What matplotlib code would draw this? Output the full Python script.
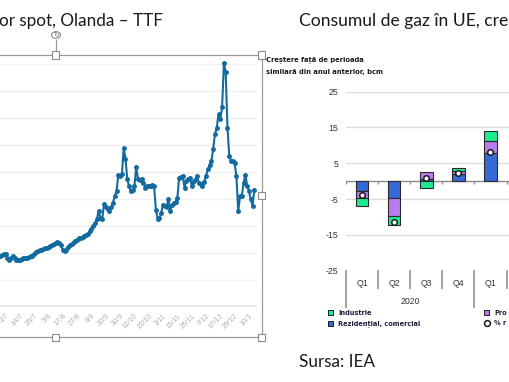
import matplotlib
matplotlib.use('Agg')
import matplotlib.pyplot as plt
from matplotlib.patches import Rectangle, Circle
from matplotlib.lines import Line2D
from matplotlib.transforms import blended_transform_factory
import numpy as np

# ---------------- data ----------------
# Left chart: TTF spot price (EUR/MWh), one value per trading day
ttf_first_index = -12
ttf_prices = [
    37.0, 37.5, 38.5, 39.5, 39.0, 36.5, 35.0, 36.0, 37.5, 36.0, 35.0, 34.5,
    35.0, 35.5, 36.0, 36.5, 36.5, 37.0, 37.5, 38.0, 39.5, 41.0, 41.5, 42.0,
    42.5, 43.0, 43.5, 44.0, 44.5, 45.0, 46.0, 46.5, 47.5, 48.5, 47.5, 46.0,
    42.0, 41.5, 42.5, 44.5, 46.0, 47.0, 48.0, 49.0, 50.0, 51.0, 51.5, 52.0,
    52.5, 53.5, 54.5, 56.0, 57.5, 60.0, 62.0, 65.0, 71.5, 66.0, 65.0, 76.5,
    74.5, 72.5, 71.0, 74.0, 77.5, 82.0, 86.0, 98.0, 97.0, 98.5, 118.0, 110.0,
    95.0, 89.5, 86.0, 87.0, 89.5, 104.0, 95.0, 94.5, 95.0, 92.0, 88.5, 90.0,
    89.5, 90.0, 90.5, 89.5, 72.0, 65.0, 66.0, 70.0, 76.0, 75.0, 74.5, 80.0,
    71.0, 76.0, 77.0, 78.0, 81.0, 96.0, 96.5, 97.0, 88.5, 93.5, 95.0, 96.0,
    90.0, 93.0, 94.0, 97.0, 92.0, 91.0, 90.0, 93.0, 97.0, 102.0, 105.0, 108.0,
    117.0, 128.0, 133.0, 143.0, 139.5, 148.0, 181.0, 174.0, 133.0, 112.0, 108.5, 108.0,
    106.5, 97.0, 71.0, 82.0, 82.5, 92.0, 98.0, 90.0, 86.0, 80.0, 75.0, 87.0,
]
date_tick_labels = ['2/7', '14/7', '26/7', '5/8', '17/8', '27/8', '8/9', '20/9', '30/9',
                    '12/10', '22/10', '3/11', '15/11', '25/11', '7/12', '17/12', '29/12', '10/1']
date_tick_positions = list(range(-8, 129, 8))
price_gridlines = [20, 40, 60, 80, 100, 120, 140, 160, 180]

# Right chart: EU gas consumption, y/y change (bcm)
quarters = ['Q1', 'Q2', 'Q3', 'Q4', 'Q1']
year_label = '2020'
residential = [-2.6, -4.7, 0.6, 2.0, 7.9]
power = [-2.0, -5.0, 1.9, 0.8, 3.2]
industry = [-2.4, -2.4, -2.0, 1.0, 3.0]
total_change = [-3.8, -11.4, 0.8, 2.4, 8.2]
y_ticks_right = [25, 15, 5, -5, -15, -25]

# ---------------- figure ----------------
W, H = 510, 382
def fx(px): return px / W
def fy(py): return 1 - py / H

fig = plt.figure(figsize=(W / 100, H / 100), dpi=100)
fig.patch.set_facecolor('white')

title_font = 'Lato'
fig.text(fx(-1), fy(26), 'or spot, Olanda \u2013 TTF', fontsize=12.3, family=title_font,
         color='#1a1a1a', va='baseline', ha='left')
fig.text(fx(299), fy(26), 'Consumul de gaz \u00een UE, cre', fontsize=12.6, family=title_font,
         color='#1a1a1a', va='baseline', ha='left')
fig.text(fx(299), fy(367), 'Sursa: IEA', fontsize=12.3, family=title_font,
         color='#1a1a1a', va='baseline', ha='left')

# ---------- left chart ----------
ax1 = fig.add_axes([fx(-20), fy(307), 277 / W, (307 - 64.3) / H])
x_idx = np.arange(ttf_first_index, ttf_first_index + len(ttf_prices))
ax1.set_xlim(-22.3, 132.5)
ax1.set_ylim(0, 180)
for g in price_gridlines:
    ax1.axhline(g, color='#efefef', lw=1.0, zorder=0)
ax1.axhline(0, color='#e6e6e6', lw=3.5, zorder=0)
ax1.plot(x_idx, ttf_prices, color='#136a9f', lw=1.5, marker='o', ms=2.5,
         mec='#136a9f', mfc='#136a9f', clip_on=False, zorder=3)
for s in ax1.spines.values():
    s.set_visible(False)
ax1.set_yticks([])
ax1.set_xticks(date_tick_positions)
ax1.set_xticklabels(date_tick_labels, rotation=45, ha='right', va='top',
                    rotation_mode='anchor', fontsize=5.3, color='#b0b0b0',
                    family='Liberation Sans')
ax1.tick_params(axis='x', length=0, pad=4)
ax1.patch.set_alpha(0)

# selection frame around left chart
frame_col = '#9a9a9a'
fig.add_artist(Line2D([fx(0), fx(262)], [fy(55), fy(55)], color=frame_col, lw=0.9))
fig.add_artist(Line2D([fx(262), fx(262)], [fy(55), fy(337)], color=frame_col, lw=0.9))
fig.add_artist(Line2D([fx(0), fx(262)], [fy(337), fy(337)], color=frame_col, lw=0.9))
fig.add_artist(Line2D([fx(56), fx(56)], [fy(40), fy(55)], color=frame_col, lw=0.9))
for (hx, hy) in [(56, 55), (262, 55), (262, 196), (56, 337), (262, 337)]:
    fig.add_artist(Rectangle((fx(hx - 3.5), fy(hy + 3.5)), 7 / W, 7 / H,
                             facecolor='white', edgecolor='#8a8a8a', lw=0.8, zorder=10))
fig.add_artist(Circle((fx(56), fy(35)), 4.5 / W, facecolor='white', edgecolor='#8a8a8a',
                      lw=0.8, zorder=10, transform=fig.transFigure))
fig.text(fx(56), fy(35), '\u21bb', fontsize=5, color='#777777', ha='center', va='center',
         zorder=11, family='DejaVu Sans')

# ---------- right chart ----------
fig.text(fx(266), fy(60), 'Cre\u0219tere fa\u021b\u0103 de perioada', fontsize=4.9,
         weight='bold', color='#1a1a1a', va='center', ha='left', family='DejaVu Sans')
fig.text(fx(266), fy(72), 'similar\u0103 din anul anterior, bcm', fontsize=4.9,
         weight='bold', color='#1a1a1a', va='center', ha='left', family='DejaVu Sans')

cat_w = 32.1
ax2 = fig.add_axes([fx(346), fy(270.7), cat_w * 7 / W, 179 / H])
ax2.set_xlim(-0.5, 6.5)
ax2.set_ylim(-25, 25)
for s in ax2.spines.values():
    s.set_visible(False)
ax2.patch.set_alpha(0)
ax2.set_xticks([])
ax2.set_yticks(y_ticks_right)
ax2.set_yticklabels([str(v) for v in y_ticks_right], fontsize=6.3, color='#333333',
                    family='Liberation Sans')
ax2.tick_params(axis='y', length=0, pad=5.5)
for g in y_ticks_right[:-1]:
    ax2.axhline(g, color='#dcdcdc', lw=1.0, zorder=0)

c_green = '#1cec8e'
c_purple = '#b97cee'
c_blue = '#3569d6'
xpos = np.arange(len(quarters))
bar_w = 0.39
pos_base = np.zeros(len(quarters))
neg_base = np.zeros(len(quarters))
for series, col in [(residential, c_blue), (power, c_purple), (industry, c_green)]:
    vals = np.array(series)
    bottoms = np.where(vals >= 0, pos_base, neg_base)
    ax2.bar(xpos, vals, bar_w, bottom=bottoms, color=col, edgecolor='#2a2a2a',
            lw=0.8, zorder=3)
    pos_base = pos_base + np.where(vals >= 0, vals, 0)
    neg_base = neg_base + np.where(vals < 0, vals, 0)
ax2.scatter(xpos, total_change, s=16, facecolor='white', edgecolor='#1a1a1a',
            lw=1.1, zorder=5)

ax2.axhline(0, color='#8c8c8c', lw=1.0, zorder=2)
bounds = np.arange(-0.5, 6.5, 1.0)
ax2.vlines(bounds, -0.7, 0, color='#8c8c8c', lw=1.0, zorder=2)

tr = blended_transform_factory(ax2.transData, fig.transFigure)
for i, b in enumerate(bounds):
    long = (i % 4 == 0)
    ax2.add_line(Line2D([b, b], [fy(270.7), fy(307 if long else 288)], color='#9a9a9a',
                        lw=1.3, transform=tr, clip_on=False))
for i, q in enumerate(quarters):
    ax2.text(i, fy(283.5), q, transform=tr, ha='center', va='center', fontsize=6.3,
             color='#333333', family='Liberation Sans')
ax2.text(1.5, fy(301.5), year_label, transform=tr, ha='center', va='center', fontsize=6.3,
         color='#333333', family='Liberation Sans')

# legend
leg_items = [
    (330.7, 312.7, 'square', c_green, 'Industrie'),
    (330.7, 323.3, 'square', c_blue, 'Reziden\u021bial, comercial'),
    (486.7, 312.7, 'square', c_purple, 'Pro'),
    (486.7, 323.3, 'circle', 'white', '% r'),
]
for (lx, ly, kind, col, lab) in leg_items:
    if kind == 'square':
        fig.add_artist(Rectangle((fx(lx - 2.6), fy(ly + 2.6)), 5.2 / W, 5.2 / H,
                                 facecolor=col, edgecolor='#1a1a1a', lw=0.7))
    else:
        fig.add_artist(Line2D([fx(lx)], [fy(ly)], marker='o', ms=4.2, mfc='white',
                              mec='#1a1a1a', mew=1.1, lw=0))
    fig.text(fx(lx + 7.5), fy(ly), lab, fontsize=4.8, weight='bold', color='#1f1f3a',
             va='center', ha='left', family='DejaVu Sans')

fig.savefig('out.png', dpi=100, facecolor='white')
